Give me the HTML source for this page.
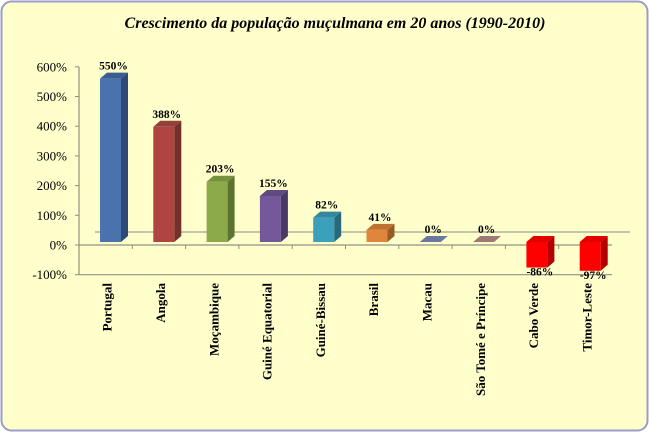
<!DOCTYPE html>
<html><head><meta charset="utf-8"><style>
html,body{margin:0;padding:0;background:#fff}
svg{display:block;font-family:"Liberation Serif",serif}
</style></head><body>
<svg width="649" height="432" viewBox="0 0 649 432">
<rect x="1.5" y="1.5" width="646" height="429" rx="10" fill="#ffffcc" stroke="#9c9ccc" stroke-width="2"/>
<text x="335" y="28" text-anchor="middle" font-size="16" font-weight="bold" font-style="italic">Crescimento da população muçulmana em 20 anos (1990-2010)</text>
<g id="axes"></g>
<g id="bars"></g>
</svg>
<script>
const categories=["Portugal","Angola","Moçambique","Guiné Equatorial","Guiné-Bissau","Brasil","Macau","São Tomé e Príncipe","Cabo Verde","Timor-Leste"];
const values=[550,388,203,155,82,41,0,0,-86,-97];
const valueLabels=["550%","388%","203%","155%","82%","41%","0%","0%","-86%","-97%"];
const tickValues=[-100,0,100,200,300,400,500,600];
const tickLabels=["-100%","0%","100%","200%","300%","400%","500%","600%"];
const colors=[["#4a72ac","#2d4a76","#3b5e92"],["#b04440","#74302c","#93403b"],["#8caa4a","#5c7432","#76903e"],["#74589a","#4a3868","#604a82"],["#3aa0bc","#27687a","#32889e"],["#e0863c","#9a5a26","#c07030"],["#7a8eb8","#55658a","#6878a0"],["#b88a8a","#8a6262","#a07878"],["#ff0000","#b40000","#e00000"],["#ff0000","#b40000","#e00000"]];
const NS="http://www.w3.org/2000/svg";
const X0=79,CW=53.3,DX=7,DY=-6;
function yAxis(v){return 245-v*0.297;}
function yBar(v){return 242-v*0.297;}
function xCat(i){return X0+i*CW;}
function mk(tag,attrs,parent){const e=document.createElementNS(NS,tag);for(const k in attrs)e.setAttribute(k,attrs[k]);parent.appendChild(e);return e;}
const ax=document.getElementById('axes'),bg=document.getElementById('bars');
let l=mk('line',{x1:95,y1:232,x2:630,y2:232,stroke:'#a0a090','stroke-width':1.2},ax);


l=mk('line',{x1:X0,y1:yAxis(600),x2:X0,y2:yAxis(-100),stroke:'#909080','stroke-width':1.2},ax);


l=mk('line',{x1:X0,y1:yAxis(0),x2:xCat(10),y2:yAxis(0),stroke:'#909080','stroke-width':1.2},ax);


l=mk('line',{x1:X0,y1:yAxis(-100),x2:xCat(10),y2:yAxis(-100),stroke:'#909080','stroke-width':1.2},ax);


tickValues.forEach((v,i)=>{
  const y=yAxis(v);
  const t=mk('line',{x1:X0-4,y1:y,x2:X0,y2:y,stroke:'#909080'},ax);
  
  
  const tx=mk('text',{x:X0-12,y:y+4.5,'text-anchor':'end','font-size':13},ax);
  tx.textContent=tickLabels[i];
  
  
});
categories.forEach((c,i)=>{
  const x=xCat(i+1);
  if(i<9){const t=mk('line',{x1:x,y1:245,x2:x,y2:249,stroke:'#909080'},ax);
  
  }
  const cx=xCat(i)+CW/2+2;
  const tx=mk('text',{x:0,y:0,transform:`translate(${cx+4},283) rotate(-90)`,'text-anchor':'end','font-size':13,'font-weight':'bold'},ax);
  tx.textContent=c;
  
  
});
values.forEach((v,i)=>{
  const g=mk('g',{},bg);
  
  
  const x=xCat(i)+21,w=21,col=colors[i];
  const y0=yBar(0),y1=yBar(v);
  const top=Math.min(y0,y1),bot=Math.max(y0,y1),h=Math.max(bot-top,0.5);
  mk('polygon',{points:`${x+w},${top} ${x+w+DX},${top+DY} ${x+w+DX},${bot+DY} ${x+w},${bot}`,fill:col[1]},g);
  mk('polygon',{points:`${x},${top} ${x+DX},${top+DY} ${x+w+DX},${top+DY} ${x+w},${top}`,fill:col[2]},g);
  if(v!==0)mk('rect',{x:x,y:top,width:w,height:h,fill:col[0]},g);
  const ly=v>=0?top+DY-3:bot+8;
  const tx=mk('text',{x:x+w/2+3,y:ly,'text-anchor':'middle','font-size':11.5,'font-weight':'bold'},g);
  tx.textContent=valueLabels[i];
  
  
});
</script>
</body></html>
